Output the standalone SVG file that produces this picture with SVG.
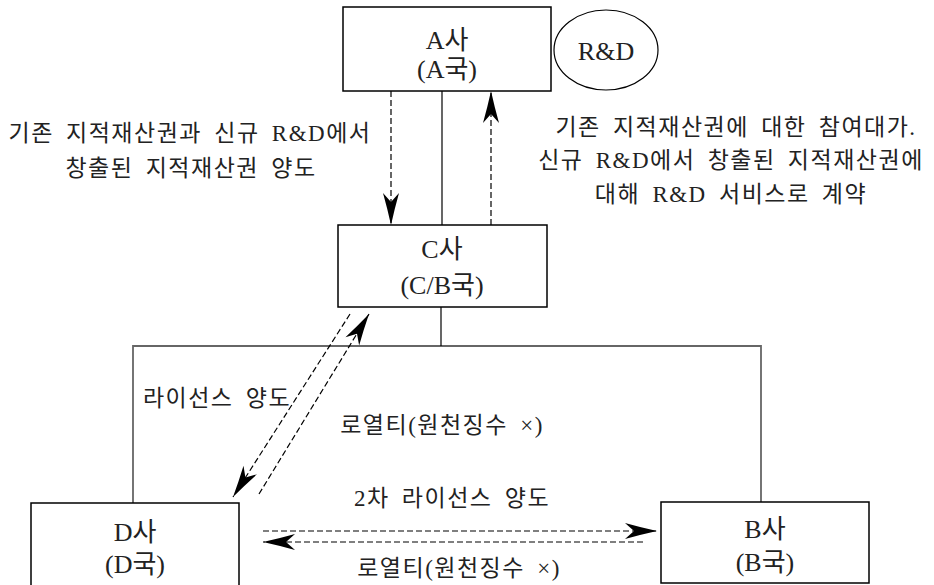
<svg xmlns="http://www.w3.org/2000/svg" width="934" height="585" viewBox="0 0 934 585">
<style>
.box{fill:#fff;stroke:#000;stroke-width:1.5}
.t{font-family:"Liberation Serif","Noto Sans CJK KR",serif;fill:#222;text-anchor:middle}
.nt{font-size:26px}
.lb{font-size:23px;letter-spacing:1.5px;word-spacing:5px}
.gl{fill:none;stroke:#666;stroke-width:1.8}
.sl{fill:none;stroke:#000;stroke-width:1.2}
.dl{fill:none;stroke:#000;stroke-width:1.2;stroke-dasharray:6 3}
</style>
<defs>
<marker id="ah" markerUnits="userSpaceOnUse" markerWidth="34" markerHeight="18" viewBox="-33 -9 34 18" refX="0" refY="0" orient="auto">
<path d="M0,0 Q-16,-3.5 -32,-8 L-23,0 L-32,8 Q-16,3.5 0,0 Z" fill="#000"/>
</marker>
</defs>
<g id="connectors">
<line class="sl" x1="442" y1="91" x2="442" y2="225"/>
<line class="dl" x1="391" y1="91" x2="391" y2="225" marker-end="url(#ah)"/>
<line class="dl" x1="491" y1="225" x2="491" y2="91" marker-end="url(#ah)"/>
<polyline class="gl" points="133,503 133,346 761,346 761,502"/>
<line class="sl" x1="441" y1="307" x2="441" y2="346"/>
<line class="dl" x1="350" y1="314" x2="233" y2="497" marker-end="url(#ah)"/>
<line class="dl" x1="259" y1="494" x2="369" y2="314" marker-end="url(#ah)"/>
<line class="dl" x1="263" y1="531" x2="657" y2="531" marker-end="url(#ah)"/>
<line class="dl" x1="643" y1="542" x2="263" y2="542" marker-end="url(#ah)"/>
</g>
<g id="nodeA">
<rect class="box" x="343" y="7" width="208" height="84"/>
<text class="t nt" x="447" y="49">A사</text>
<text class="t nt" x="447" y="78">(A국)</text>
</g>
<g id="rnd">
<ellipse cx="606" cy="50" rx="52" ry="40" fill="#fff" stroke="#000" stroke-width="1.2"/>
<text class="t" x="606" y="60" font-size="26">R&amp;D</text>
</g>
<g id="nodeC">
<rect class="box" x="338" y="225" width="209" height="82"/>
<text class="t nt" x="442" y="258">C사</text>
<text class="t nt" x="442" y="294">(C/B국)</text>
</g>
<g id="nodeD">
<rect class="box" x="31" y="503" width="208" height="90"/>
<text class="t nt" x="135" y="541">D사</text>
<text class="t nt" x="135" y="573">(D국)</text>
</g>
<g id="nodeB">
<rect class="box" x="661" y="502" width="208" height="81"/>
<text class="t nt" x="765" y="538">B사</text>
<text class="t nt" x="765" y="571">(B국)</text>
</g>
<g id="labels">
<text class="t lb" x="190" y="141">기존 지적재산권과 신규 R&amp;D에서</text>
<text class="t lb" x="191" y="176">창출된 지적재산권 양도</text>
<text class="t lb" x="736" y="135">기존 지적재산권에 대한 참여대가.</text>
<text class="t lb" x="731" y="168">신규 R&amp;D에서 창출된 지적재산권에</text>
<text class="t lb" x="731" y="202">대해 R&amp;D 서비스로 계약</text>
<text class="t lb" x="217" y="406">라이선스 양도</text>
<text class="t lb" x="442" y="433">로열티(원천징수 ×)</text>
<text class="t lb" x="452" y="506">2차 라이선스 양도</text>
<text class="t lb" x="459" y="576">로열티(원천징수 ×)</text>
</g>
</svg>
